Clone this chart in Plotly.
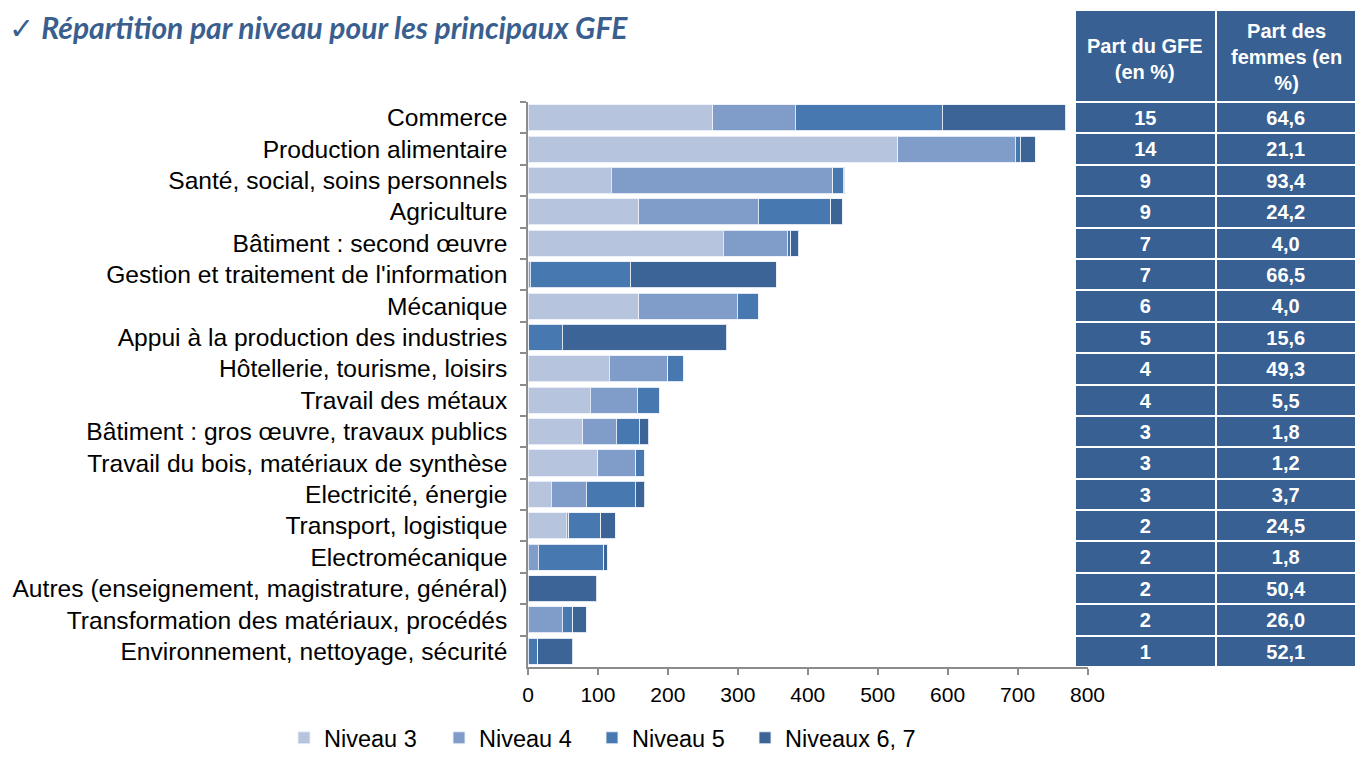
import plotly.graph_objects as go

categories = [
    "Commerce",
    "Production alimentaire",
    "Santé, social, soins personnels",
    "Agriculture",
    "Bâtiment : second œuvre",
    "Gestion et traitement de l'information",
    "Mécanique",
    "Appui à la production des industries",
    "Hôtellerie, tourisme, loisirs",
    "Travail des métaux",
    "Bâtiment : gros œuvre, travaux publics",
    "Travail du bois, matériaux de synthèse",
    "Electricité, énergie",
    "Transport, logistique",
    "Electromécanique",
    "Autres (enseignement, magistrature, général)",
    "Transformation des matériaux, procédés",
    "Environnement, nettoyage, sécurité",
]

niveau3 = [264, 529, 119, 158, 279, 0, 158, 0, 116, 89, 78, 100, 33, 55, 0, 0, 0, 0]
niveau4 = [118, 168, 317, 171, 92, 3, 141, 1, 84, 67, 48, 54, 50, 3, 15, 0, 49, 0]
niveau5 = [210, 7, 15, 104, 5, 143, 30, 48, 23, 32, 33, 13, 70, 46, 93, 0, 15, 14]
niveau67 = [177, 21, 2, 16, 11, 209, 0, 235, 0, 0, 14, 0, 14, 21, 5, 98, 19, 50]

part_gfe = ["15", "14", "9", "9", "7", "7", "6", "5", "4", "4", "3", "3", "3", "2", "2", "2", "2", "1"]
part_femmes = ["64,6", "21,1", "93,4", "24,2", "4,0", "66,5", "4,0", "15,6", "49,3", "5,5",
               "1,8", "1,2", "3,7", "24,5", "1,8", "50,4", "26,0", "52,1"]

series_names = ["Niveau 3", "Niveau 4", "Niveau 5", "Niveaux 6, 7"]
series_values = [niveau3, niveau4, niveau5, niveau67]
series_colors = ["#B6C4DE", "#7F9DC8", "#4878B0", "#3C6496"]

table_header = ["Part du GFE<br>(en %)", "Part des<br>femmes (en<br>%)"]
title_text = "<span style='font-weight:normal'>✓</span> <i>Répartition par niveau pour les principaux GFE</i>"

# page has an 8px body margin: figure is shrunk so that it fits the window
OFF = 8
W, H = 1363 - OFF, 760 - OFF
FONT = "Liberation Sans, Arial, sans-serif"
TABLE_BLUE = "#386092"


def fx(px):
    return (px - OFF) / W


def fy(py):
    return (H - (py - OFF)) / H


legend_ids = ["legend", "legend2", "legend3", "legend4"]
legend_left = [284, 439, 592, 745]

fig = go.Figure()
for name, vals, col, lid in zip(series_names, series_values, series_colors, legend_ids):
    fig.add_trace(go.Bar(
        y=categories, x=vals, name=name, orientation="h", legend=lid,
        marker=dict(color=col, line=dict(color="rgba(235,240,248,0.9)", width=1)),
        hoverinfo="x+y+name",
    ))

# table geometry (window pixels)
t_left, t_right, t_top, t_bottom = 1075, 1357, 10, 667
header_h = 92
row_h = (t_bottom - t_top - header_h) / len(categories)

fig.add_trace(go.Table(
    domain=dict(x=[fx(t_left), fx(t_right)], y=[fy(t_bottom), fy(t_top)]),
    columnwidth=[1, 1],
    header=dict(values=["", ""], height=header_h, fill_color=TABLE_BLUE,
                line=dict(color="white", width=2)),
    cells=dict(values=[part_gfe, part_femmes], height=row_h, fill_color=TABLE_BLUE,
               line=dict(color="white", width=2), align="center",
               font=dict(family=FONT, size=20, color="white", weight="bold")),
))

legend_layout = {}
for lid, lx in zip(legend_ids, legend_left):
    legend_layout[lid] = dict(orientation="h", xref="container", yref="container",
                              x=(lx - OFF) / W, xanchor="left", y=0, yanchor="bottom",
                              font=dict(size=23.5, family=FONT, color="black"))

fig.update_layout(
    width=W, height=H,
    margin=dict(l=0, r=0, t=0, b=0, autoexpand=False),
    paper_bgcolor="white", plot_bgcolor="white",
    barmode="stack", bargap=0.17,
    font=dict(family=FONT, color="black"),
    xaxis=dict(domain=[fx(528), fx(1087.5)], range=[0, 800], dtick=100, automargin=False,
               showgrid=False, zeroline=False, showline=True, linecolor="#8C8C8C", linewidth=1.5,
               ticks="outside", ticklen=6, tickcolor="#8C8C8C", tickwidth=1.5,
               tickfont=dict(size=21, family=FONT, color="black"), ticklabelstandoff=2,
               fixedrange=True),
    yaxis=dict(domain=[fy(667), fy(102)], autorange="reversed", automargin=False,
               showgrid=False, zeroline=False, showline=True, linecolor="#8C8C8C", linewidth=1.5,
               ticks="outside", tickson="boundaries", ticklen=6, tickcolor="#8C8C8C", tickwidth=1.5,
               tickfont=dict(size=24.6, family=FONT, color="black"), ticklabelstandoff=14,
               fixedrange=True),
    showlegend=True,
    **legend_layout,
)

# header labels of the table
fig.add_annotation(xref="paper", yref="paper", x=fx((1075 + 1214) / 2), y=fy(59),
                   xanchor="center", yanchor="middle",
                   text=table_header[0], showarrow=False, align="center",
                   font=dict(family=FONT, size=20, color="white", weight="bold"))
fig.add_annotation(xref="paper", yref="paper", x=fx((1216 + 1357) / 2), y=fy(57),
                   xanchor="center", yanchor="middle",
                   text=table_header[1], showarrow=False, align="center",
                   font=dict(family=FONT, size=20, color="white", weight="bold"))

# title
fig.add_annotation(xref="paper", yref="paper", x=0, y=1, xanchor="left", yanchor="top",
                   text=title_text, showarrow=False, borderpad=0,
                   font=dict(family="Lato, Open Sans, sans-serif", size=30, color="#3A5F8F", weight="bold"))

fig.write_html("out.html")
